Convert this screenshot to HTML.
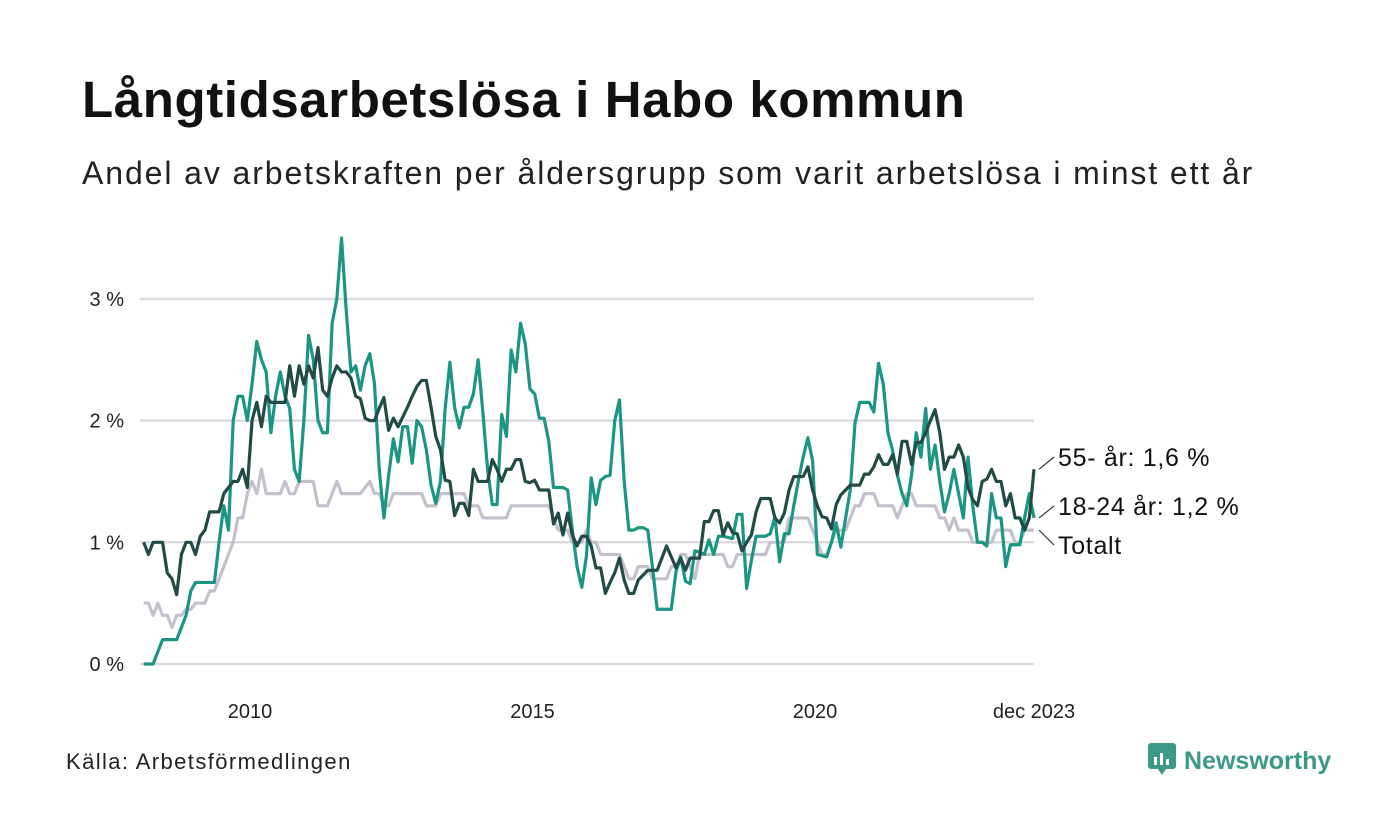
<!DOCTYPE html>
<html><head><meta charset="utf-8"><style>
body{margin:0;background:#fff;font-family:"Liberation Sans",sans-serif;}
#wrap{position:relative;width:1400px;height:840px;overflow:hidden;}
h1{position:absolute;left:82px;top:70px;margin:0;font-size:51px;letter-spacing:0.6px;font-weight:bold;color:#111;}
.sub{position:absolute;left:82px;top:155px;font-size:32px;letter-spacing:1.9px;color:#222;}
.src{position:absolute;left:66px;top:749px;font-size:22px;letter-spacing:1.4px;color:#222;}
.logo{position:absolute;left:1148px;top:743px;font-size:25px;font-weight:bold;color:#3a9a86;}
</style></head><body><div id="wrap">
<h1>Långtidsarbetslösa i Habo kommun</h1>
<div class="sub">Andel av arbetskraften per åldersgrupp som varit arbetslösa i minst ett år</div>
<div class="src">Källa: Arbetsförmedlingen</div>
<div class="logo"><svg width="28" height="32" viewBox="0 0 28 32" style="vertical-align:-6px;margin-right:8px"><rect x="0" y="0" width="28" height="26" rx="3" fill="#3a9a86"/><path d="M10 26 L14 32 L18 26Z" fill="#3a9a86"/><rect x="6" y="14" width="3" height="8" fill="#fff"/><rect x="12" y="10" width="3" height="12" fill="#fff"/><rect x="18" y="16" width="3" height="6" fill="#fff"/></svg>Newsworthy</div>
<svg id="chart" width="1400" height="840" style="position:absolute;left:0;top:0"></svg>
</div>
<script>
const yTicks=[0,1,2,3];
const yTickLabels=["0 %","1 %","2 %","3 %"];
const xTicks=[2010,2015,2020];
const xTickLabels=["2010","2015","2020"];
const total=[0.5,0.5,0.4,0.5,0.4,0.4,0.3,0.4,0.4,0.45,
0.45,0.5,0.5,0.5,0.6,0.6,0.7,0.8,0.9,1.0,
1.2,1.2,1.4,1.5,1.4,1.6,1.4,1.4,1.4,1.4,
1.5,1.4,1.4,1.5,1.5,1.5,1.5,1.3,1.3,1.3,
1.4,1.5,1.4,1.4,1.4,1.4,
1.4,1.45,1.5,1.4,1.4,1.3,1.3,1.4,1.4,1.4,1.4,1.4,1.4,1.4,
1.3,1.3,1.3,1.4,1.4,1.4,1.4,1.4,1.4,1.3,1.3,1.3,
1.2,1.2,1.2,1.2,1.2,1.2,1.3,1.3,1.3,1.3,1.3,1.3,1.3,1.3,1.3,
1.2,1.1,1.1,1.1,1.0,1.0,1.0,1.1,1.0,1.0,0.9,0.9,0.9,0.9,0.9,0.8,0.7,0.7,
0.8,0.8,0.8,0.7,0.7,0.7,0.7,0.8,0.8,0.9,0.9,0.8,0.7,0.9,0.9,0.9,0.9,0.9,0.9,0.8,0.8,0.9,0.9,0.9,
0.9,0.9,0.9,0.9,1.0,1.0,1.0,1.0,1.2,1.2,1.2,1.2,1.2,1.1,1.0,0.9,0.9,1.0,1.1,1.1,1.1,1.2,1.3,1.3,
1.4,1.4,1.4,1.3,1.3,1.3,1.3,1.2,1.3,1.4,1.4,1.3,1.3,1.3,1.3,1.3,
1.2,1.2,1.1,1.2,1.1,1.1,1.1,1.0,1.0,1.0,1.0,1.0,1.1,1.1,1.1,1.1,1.0,1.0,1.1,1.1,1.1];
const age55=[1.0,0.9,1.0,1.0,1.0,0.75,0.7,0.57,0.9,1.0,
1.0,0.9,1.05,1.1,1.25,1.25,1.25,1.4,1.45,1.5,
1.5,1.6,1.45,2.0,2.15,1.95,2.2,2.15,2.15,2.15,
2.15,2.45,2.2,2.45,2.3,2.45,2.35,2.6,2.25,2.2,
2.35,2.45,2.4,2.4,2.35,2.2,
2.18,2.02,2.0,2.0,2.1,2.19,1.92,2.02,1.95,2.03,2.11,2.2,2.28,2.33,
2.33,2.11,1.87,1.76,1.51,1.5,1.22,1.32,1.32,1.22,1.6,1.5,1.5,1.5,
1.68,1.6,1.5,1.6,1.6,1.68,1.68,1.5,1.49,1.51,1.43,1.43,1.43,1.15,
1.24,1.06,1.24,1.06,0.97,1.05,1.05,0.97,0.79,0.79,0.58,0.67,0.75,0.87,0.69,0.58,0.58,
0.69,0.73,0.77,0.77,0.77,0.87,0.97,0.88,0.79,0.87,0.77,0.87,0.87,0.87,1.17,1.17,1.26,1.26,1.06,1.16,
1.08,1.07,0.93,1.0,1.06,1.25,1.36,1.36,1.36,1.2,1.16,1.24,1.43,1.54,1.54,1.54,1.62,1.43,1.3,1.21,
1.2,1.11,1.31,1.39,1.43,1.47,1.47,1.47,1.56,1.56,1.62,1.72,1.64,1.64,1.72,1.56,
1.83,1.83,1.64,1.82,1.82,1.9,2.0,2.09,1.9,1.6,1.7,1.7,1.8,1.7,1.45,1.35,1.3,1.5,1.52,1.6,
1.5,1.5,1.3,1.4,1.2,1.2,1.1,1.2,1.6];
const age1824=[0,0,0,0.1,0.2,0.2,0.2,0.2,0.3,0.4,
0.6,0.67,0.67,0.67,0.67,0.67,1.0,1.3,1.1,2.0,
2.2,2.2,2.0,2.3,2.65,2.5,2.4,1.9,2.2,2.4,
2.2,2.1,1.6,1.5,2.0,2.7,2.5,2.0,1.9,1.9,
2.8,3.0,3.5,2.9,2.4,2.45,
2.25,2.45,2.55,2.3,1.6,1.2,1.55,1.85,1.66,1.95,1.95,1.65,2.0,1.95,
1.76,1.47,1.32,1.5,2.1,2.48,2.11,1.94,2.11,2.11,2.22,2.5,2.07,1.6,
1.31,1.31,2.05,1.87,2.58,2.4,2.8,2.63,2.26,2.22,2.02,2.02,1.83,1.45,
1.45,1.45,1.43,1.1,0.8,0.63,0.89,1.53,1.31,1.51,1.54,1.55,2.0,2.17,1.5,1.1,1.1,
1.12,1.12,1.1,0.8,0.45,0.45,0.45,0.45,0.76,0.88,0.68,0.66,0.93,0.92,0.9,1.02,0.9,1.05,1.05,1.04,
1.03,1.23,1.23,0.62,0.85,1.05,1.05,1.05,1.07,1.21,0.84,1.07,1.07,1.3,1.51,1.7,1.86,1.67,0.9,0.89,
0.88,1.0,1.16,0.96,1.2,1.43,1.98,2.15,2.15,2.15,2.07,2.47,2.3,1.9,1.75,1.55,
1.4,1.3,1.55,1.9,1.7,2.1,1.6,1.8,1.5,1.25,1.4,1.6,1.4,1.2,1.7,1.3,1.0,1.0,0.97,1.4,
1.2,1.2,0.8,0.98,0.98,0.98,1.2,1.4,1.2];
const NS="http://www.w3.org/2000/svg";
const svg=document.getElementById('chart');
const y0=664,pxPct=121.7,xStart=143.7,xEnd=1034;
function xPos(year){return 250+(year-2010)*56.5;}
function xIdx(i,n){return xStart+i*(xEnd-xStart)/(n-1);}
function yPos(v){return y0-v*pxPct;}
function mk(tag,a){const e=document.createElementNS(NS,tag);for(const k in a)e.setAttribute(k,a[k]);svg.appendChild(e);return e;}
yTicks.forEach((v,i)=>{
 const l=mk('line',{x1:140,x2:1034,y1:yPos(v),y2:yPos(v),stroke:'#dddbe0','stroke-width':2.5});
 
 
 const t=mk('text',{x:124,y:yPos(v)+7,'text-anchor':'end','font-size':20,fill:'#222','font-family':'Liberation Sans, sans-serif'});
 t.textContent=yTickLabels[i];
 
 
});
xTicks.forEach((v,i)=>{
 const t=mk('text',{x:xPos(v),y:718,'text-anchor':'middle','font-size':20,fill:'#222','font-family':'Liberation Sans, sans-serif'});
 t.textContent=xTickLabels[i];
 
 
});
const lt=mk('text',{x:1034,y:718,'text-anchor':'middle','font-size':20,fill:'#222','font-family':'Liberation Sans, sans-serif'});
lt.textContent='dec 2023';


function line(arr,color,name){
 const p=mk('polyline',{points:arr.map((v,i)=>xIdx(i,arr.length)+','+yPos(v)).join(' '),fill:'none',stroke:color,'stroke-width':3.2,'stroke-linejoin':'round'});
 
 
 return p;
}
line(total,'#c4c0cc','series-totalt');
line(age1824,'#1a9683','series-18-24');
line(age55,'#224b45','series-55-plus');
const labels=[[age55,463,'55- år: 1,6 %','label-55-plus'],[age1824,512,'18-24 år: 1,2 %','label-18-24'],[total,551,'Totalt','label-totalt']];
labels.forEach(L=>{
 const arr=L[0],v=arr[arr.length-1];
 const c=mk('line',{x1:xEnd+5,y1:yPos(v),x2:1054,y2:L[1]-6,stroke:'#333','stroke-width':1.2});
 
 
 const t=mk('text',{x:1058,y:L[1]+3,'font-size':25,'letter-spacing':'0.7',fill:'#111','font-family':'Liberation Sans, sans-serif'});
 t.textContent=L[2];
 
 
});
</script>
</body></html>
